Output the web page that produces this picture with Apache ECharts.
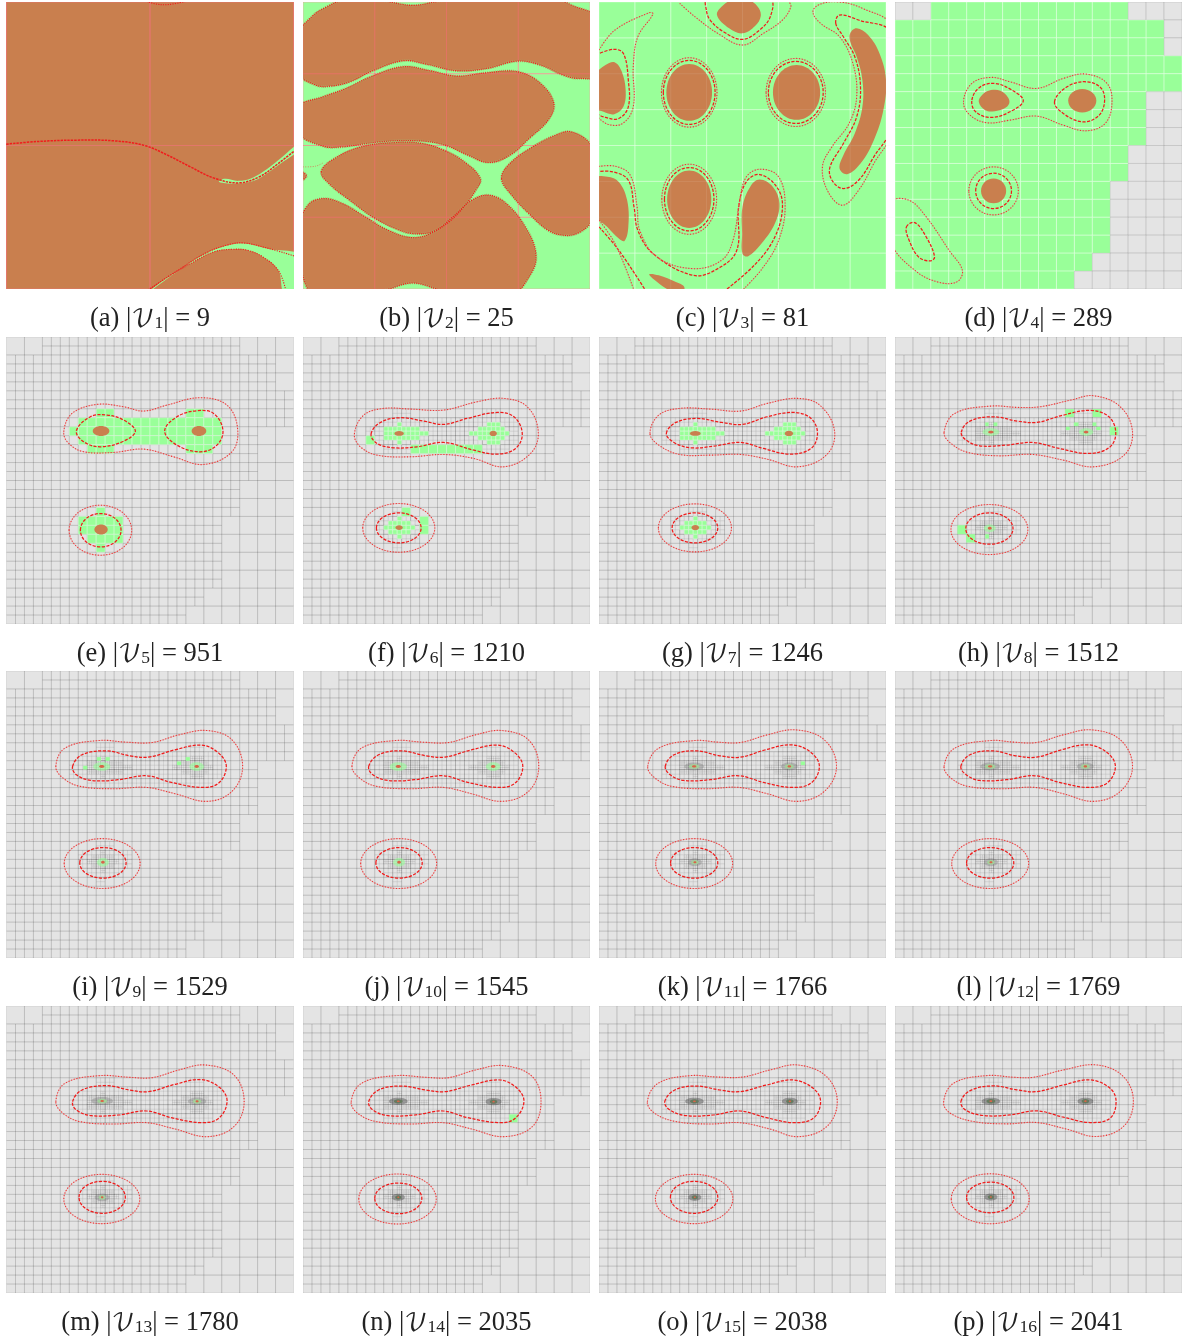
<!DOCTYPE html>
<html><head><meta charset="utf-8">
<style>html,body{margin:0;padding:0;background:#fff}#c{width:1192px;height:1341px}</style>
<script src="https://cdn.jsdelivr.net/npm/echarts@6/dist/echarts.min.js"></script>
</head><body><div id="c"></div>
<script>
const letters=['a','b','c','d','e','f','g','h','i','j','k','l','m','n','o','p'];
const vertexCounts=[9,25,81,289,951,1210,1246,1512,1529,1545,1766,1769,1780,2035,2038,2041];
// reading frames: x at panel left, x at right, y at top, y at bottom of the crop the values were read on
const frames={a:[18,770,6,866],b:[797,1550,6,866],c:[8,762,6,866],d:[788,1542,6,866],e:[18,880,6,866],f:[8,868,6,866],g:[8,762,6,866],h:[788,1542,6,866],i:[16,772,3,866],j:[796,1552,3,866],k:[8,762,3,866],l:[788,1542,3,866],m:[16,772,3,864],n:[796,1552,3,864],o:[8,868,3,864],p:[14,876,18,880]};
// mesh: refined span of each coarse row
const refinedRows=[[2,13],[0,15],[0,15],[0,16],[0,16],[0,14],[0,14],[0,14],[0,13],[0,13],[0,12],[0,12],[0,12],[0,12],[0,11],[0,10]];
// refined blocks, half-cell index
const greenE=[[10,8,12,9],[20,8,22,9],[8,9,24,12],[7,10,8,11],[9,12,12,13],[20,12,23,13],[10,19,11,20],[8,20,13,22],[9,22,13,23],[10,23,11,24]];
const coarseGreenF=[[7,11,8,12],[12,12,20,13],[13,20,14,22],[11,19,12,20]];
// refined blocks, quarter-cell index
const crosses=[[21,19,22,20],[18,20,26,21],[18,21,28,22],[18,22,26,23],[21,23,22,24],
 [41,19,44,20],[39,20,45,21],[37,21,46,22],[39,22,45,23],[41,23,44,24],
 [21,40,22,41],[19,41,24,42],[18,42,25,43],[19,43,24,44],[21,44,22,45]];
const spotsH=[[1235,222,1258,246],[1307,222,1330,246],[1352,275,1375,300],[952,570,975,597],[975,597,998,622],[1025,262,1034,273],[1047,262,1057,273],[1258,262,1270,273],[1307,262,1317,273],[1237,275,1247,285],[1317,275,1328,285],[1025,597,1035,610]];
const spotsI=[[254,262,265,273],[277,262,288,273],[218,288,229,299],[465,275,476,286],[488,262,499,273]];
const spotsK=[[538,275,549,286]];
const spotsN=[[1339,328,1361,352]];
// panel a
const aGreen1=[[790,425],[730,480],[690,515],[660,534],[625,542],[590,536],[575,545],[625,550],[670,540],[700,520],[730,495],[790,445]];
const aGreen2=[[380,885],[470,810],[540,760],[600,735],[640,730],[700,745],[800,772],[800,885],[748,885],[730,810],[690,770],[650,750],[610,747],[560,755],[500,790],[440,830]];
const aLine1=[[0,434],[100,424],[200,420],[300,422],[380,436],[440,465],[500,500],[560,533],[625,548],[680,530],[730,490],[790,436]];
const aLine2=[[390,868],[470,808],[540,758],[600,733],[640,728],[700,743],[775,768]];
const aLine3=[[750,870],[730,810],[690,770],[650,750],[610,747],[560,755],[500,790],[440,830],[395,866]];
const aLine4=[[385,4],[410,12],[440,14],[490,4]];
// panel b
const bBlobs=[
 [[780,110],[820,50],[860,20],[900,2],[1000,2],[1085,16],[1170,2],[1470,2],[1500,15],[1575,60],[1575,222],[1520,235],[1480,225],[1420,195],[1360,183],[1280,205],[1200,212],[1120,192],[1060,182],[980,212],[920,245],[870,258],[830,255],[780,215]],
 [[780,322],[850,290],[910,265],[975,230],[1060,200],[1130,212],[1200,228],[1280,218],[1360,215],[1420,250],[1455,310],[1440,360],[1390,415],[1340,465],[1285,487],[1230,465],[1170,435],[1100,422],[1000,425],[900,440],[850,438],[780,395]],
 [[845,515],[880,475],[950,440],[1040,427],[1110,430],[1170,452],[1220,485],[1262,535],[1250,570],[1215,625],[1180,665],[1135,695],[1085,700],[1040,685],[980,650],[920,600],[870,555]],
 [[1318,535],[1340,490],[1400,440],[1460,405],[1500,395],[1550,430],[1580,500],[1580,600],[1550,670],[1515,700],[1480,705],[1440,690],[1390,640],[1345,585]],
 [[780,700],[810,615],[850,595],[900,610],[960,650],[1020,690],[1085,712],[1140,695],[1190,650],[1240,600],[1285,585],[1330,610],[1380,680],[1408,760],[1395,820],[1340,885],[1170,872],[1085,848],[1000,872],[830,885],[790,800]],
 [[790,515],[806,527],[790,542]]];
const bLine=[[797,500],[830,498],[850,488]];
// panel c
const cBlobs=[
 [[318,45],[335,15],[360,0],[400,0],[425,20],[433,48],[418,78],[385,100],[350,85]],
 [[668,100],[685,85],[715,105],[745,160],[762,240],[755,330],[730,420],[695,490],[660,522],[640,505],[650,465],[680,400],[700,320],[700,240],[685,170],[668,125]],
 [[-5,230],[25,195],[50,187],[68,215],[78,270],[72,320],[48,342],[20,335],[-5,320]],
 [[-5,535],[30,530],[60,545],[82,600],[85,680],[75,722],[60,715],[30,680],[-5,640]],
 [[385,620],[405,560],[430,538],[465,560],[482,610],[470,670],[435,730],[400,768],[385,760],[384,700]],
 [[140,822],[165,825],[210,845],[232,860],[225,880],[190,868],[155,840]]];
const cEll=[[245,277,60,85],[527,277,62,82],[245,597,58,86]];
const cEllDash=[[245,277,68,96],[525,277,72,93],[245,597,65,95]];
const cEllDot=[[245,277,73,104],[525,277,78,102],[245,597,72,105]];
const cDashClosed=[
 [[290,30],[292,0],[458,0],[458,50],[430,90],[385,118],[335,95],[300,60]],
 [[630,70],[640,45],[690,60],[775,100],[775,380],[730,470],[690,540],[650,565],[620,540],[615,500],[650,430],[685,350],[695,260],[680,170],[650,110]]];
const cDashOpen=[
 [[0,165],[45,148],[72,160],[85,240],[85,320],[60,355],[25,352],[0,340]],
 [[0,515],[45,515],[85,540],[100,620],[110,690],[150,760],[255,825],[320,805],[370,750],[375,620],[395,545],[430,523],[475,560],[490,620],[470,710],[420,790],[340,870]],
 [[8,680],[60,750],[130,870]]];
const cDotClosed=[
 [[570,35],[590,12],[640,6],[700,25],[775,80],[775,395],[730,490],[690,570],[648,615],[610,575],[595,500],[620,440],[665,370],[685,290],[675,190],[640,110],[590,70]]];
const cDotOpen=[
 [[8,150],[50,90],[140,38],[150,42],[110,110],[98,200],[98,320],[70,370],[30,372],[0,345]],
 [[220,10],[260,50],[320,100],[385,135],[440,100],[490,60],[512,20],[505,2]],
 [[0,500],[50,498],[90,525],[108,620],[115,690],[160,770],[255,805],[330,780],[360,720],[378,600],[395,530],[432,507],[480,530],[497,620],[480,720],[440,800],[385,870]],
 [[8,660],[50,730],[100,870]]];
// panel d
const dBlobs=[[[1008,305],[1018,283],[1040,270],[1065,272],[1085,292],[1088,310],[1075,325],[1050,333],[1025,330]]];
const dEll=[[1280,302,37,35],[1047,572,33,37]];
const dDash=[[[990,300],[1010,262],[1050,250],[1095,270],[1125,302],[1090,335],[1040,352],[1000,335]],[[1207,305],[1240,260],[1290,245],[1330,265],[1338,310],[1320,350],[1280,365],[1230,340]],[[818,680],[840,667],[870,710],[892,770],[880,782],[850,770],[825,720]]];
const dDot=[[[968,305],[990,250],[1040,232],[1090,245],[1160,265],[1230,235],[1290,222],[1345,250],[1358,310],[1340,370],[1290,392],[1230,375],[1160,348],[1090,360],[1030,368],[985,345]],[[780,605],[825,600],[870,650],[930,750],[965,810],[950,845],[900,845],[840,810],[780,730]]];
const dEllDash=[[1047,572,47,53]];
const dEllDot=[[1047,572,65,72]];
// panels e-p: contours
const outerE=[[190,290],[215,235],[290,208],[370,215],[430,228],[500,210],[600,188],[680,210],[712,280],[695,350],[610,388],[520,365],[430,342],[340,352],[250,350],[205,325]];
const innerE=[[[228,287],[270,245],[320,240],[370,255],[405,288],[370,318],[300,335],[250,320]],[[493,288],[530,245],[590,227],[640,235],[668,285],[650,330],[600,350],[530,330]]];
const ellE=[[301,585,61,50],[300,585,94,75]];
const brownE=[[302,288,25,15],[596,288,22,15],[302,583,20,15]];
const outerF=[[162,297],[190,240],[250,220],[330,222],[430,225],[530,200],[610,190],[680,215],[713,290],[690,355],[610,395],[520,370],[430,358],[330,365],[230,360],[180,335]];
const innerF=[[212,297],[240,262],[300,248],[370,258],[430,268],[500,250],[590,232],[640,245],[665,295],[645,340],[590,357],[520,345],[430,322],[350,335],[280,338],[230,325]];
const ellF=[[295,578,67,45],[295,578,108,73]];
const brownF=[[296,295,14,7],[578,295,11,8],[296,577,11,7]];
const outerG=[[142,295],[165,240],[220,220],[300,222],[380,228],[450,205],[530,190],[590,212],[627,290],[605,360],[530,395],[450,372],[380,358],[300,360],[220,358],[165,330]];
const innerG=[[185,295],[210,262],[265,250],[330,262],[385,268],[450,245],[520,232],[565,250],[582,295],[565,340],[510,357],[440,340],[380,322],[310,333],[250,338],[205,322]];
const ellG=[[260,578,60,45],[260,578,96,72]];
const brownG=[[261,295,14,7],[507,295,11,8],[261,577,10,8]];
const outerH=[[917,292],[945,235],[1040,213],[1110,217],[1170,215],[1250,195],[1310,182],[1380,215],[1412,290],[1390,360],[1310,395],[1230,375],[1150,358],[1060,362],[980,352],[935,325]];
const innerH=[[962,292],[985,258],[1045,245],[1110,258],[1160,262],[1230,240],[1300,226],[1350,245],[1368,295],[1350,338],[1295,355],[1220,340],[1150,322],[1080,330],[1010,332],[975,315]];
const ellH=[[1036,580,62,47],[1036,583,101,75]];
const centersH=[[1040,291],[1290,291],[1037,579]];
const outerI=[[146,290],[170,235],[260,212],[330,217],[400,218],[470,195],[545,182],[610,210],[638,290],[610,365],[545,395],[460,372],[385,353],[300,357],[210,350],[165,325]];
const innerI=[[190,290],[215,255],[280,243],[340,258],[390,262],[460,240],[530,226],[575,250],[595,290],[575,340],[530,353],[450,338],[385,318],[310,330],[240,332],[200,315]];
const ellI=[[270,580,61,46],[268,582,100,75]];
const centersI=[[267,290],[517,290],[270,578]];
const outerJ=[[925,290],[950,235],[1040,212],[1110,217],[1180,218],[1250,195],[1320,182],[1390,210],[1417,290],[1390,365],[1320,395],[1240,372],[1165,353],[1080,357],[990,350],[945,325]];
const innerJ=[[969,290],[995,255],[1055,243],[1120,258],[1170,262],[1240,240],[1310,226],[1355,250],[1375,290],[1355,340],[1310,353],[1230,338],[1165,318],[1090,330],[1020,332],[980,315]];
const ellJ=[[1049,580,61,46],[1048,582,100,75]];
const centersJ=[[1047,290],[1297,290],[1049,578]];
const outerK=[[136,290],[165,235],[260,212],[320,217],[380,218],[450,195],[525,180],[600,210],[632,290],[600,365],[530,395],[450,372],[375,353],[290,357],[200,350],[155,325]];
const innerK=[[182,290],[205,255],[265,243],[325,258],[380,262],[445,240],[515,225],[565,248],[587,290],[565,340],[515,353],[440,338],[375,318],[300,330],[230,332],[195,315]];
const ellK=[[258,580,62,46],[258,582,101,75]];
const centersK=[[258,290],[508,290],[260,578]];
const outerL=[[917,290],[945,235],[1040,212],[1100,217],[1160,218],[1230,195],[1305,180],[1380,210],[1412,290],[1380,365],[1310,395],[1230,372],[1155,353],[1070,357],[980,350],[935,325]];
const innerL=[[961,290],[985,255],[1045,243],[1105,258],[1160,262],[1225,240],[1295,225],[1345,248],[1367,290],[1345,340],[1295,353],[1220,338],[1155,318],[1080,330],[1010,332],[975,315]];
const ellL=[[1038,580,62,46],[1038,582,101,75]];
const centersL=[[1038,290],[1288,290],[1040,578]];
const outerM=[[146,290],[170,235],[260,212],[340,217],[400,218],[470,195],[540,180],[615,210],[642,290],[615,365],[545,395],[460,372],[385,353],[300,357],[210,350],[165,325]];
const innerM=[[190,290],[215,255],[280,242],[340,255],[390,260],[460,238],[530,224],[580,250],[597,290],[575,340],[530,353],[450,338],[385,318],[310,330],[240,332],[200,315]];
const ellM=[[268,577,61,48],[267,582,100,74]];
const centersM=[[268,288],[518,289],[268,577]];
const outerN=[[923,290],[950,235],[1040,212],[1120,217],[1180,218],[1250,195],[1325,182],[1400,215],[1423,290],[1400,365],[1325,395],[1240,372],[1165,353],[1080,357],[990,350],[940,325]];
const innerN=[[969,290],[995,255],[1055,243],[1120,255],[1170,260],[1240,240],[1315,225],[1360,250],[1378,290],[1355,340],[1315,353],[1230,338],[1165,318],[1090,330],[1020,332],[980,315]];
const ellN=[[1047,580,62,46],[1045,582,102,75]];
const centersN=[[1047,289],[1298,290],[1047,577]];
const outerO=[[153,290],[185,235],[280,212],[360,216],[440,216],[520,195],[605,180],[690,215],[722,290],[690,365],[605,395],[520,372],[430,353],[340,357],[240,350],[175,325]];
const innerO=[[205,290],[235,255],[300,243],[370,255],[430,260],[510,240],[590,225],[650,250],[672,290],[650,340],[590,353],[510,338],[430,318],[350,330],[270,332],[220,315]];
const ellO=[[293,577,71,48],[293,582,116,74]];
const centersO=[[294,289],[580,289],[295,577]];
const outerP=[[160,307],[190,250],[290,227],[370,232],[430,232],[520,210],[620,195],[700,230],[730,305],[700,380],[620,410],[530,388],[440,368],[350,372],[250,365],[180,340]];
const innerP=[[212,305],[240,272],[310,258],[380,270],[440,275],[520,255],[600,240],[660,265],[678,305],[660,355],[600,368],[520,352],[440,333],[360,345],[280,347],[225,330]];
const ellP=[[300,593,71,46],[300,597,117,75]];
const centersP=[[302,304],[586,304],[302,592]];
// center marker layers: half-width, half-height in mesh cells, colour name
const coreH=[[.47,.21,'pale'],[.16,.08,'dot']];
const coreI=[[.48,.24,'pale'],[.15,.08,'dot']];
const coreK=[[.55,.22,'gray'],[.3,.13,'soft'],[.12,.06,'dot']];
const coreM=[[.6,.22,'gray'],[.28,.13,'soft'],[.1,.06,'dot']];
const coreN=[[.52,.2,'grayD'],[.25,.12,'dark'],[.08,.05,'dot']];

const GREEN='#99ff99',BROWN='#c97f4e',GRAY='#e4e4e4',SALMON='#e2776a',RED='#f01c1c';
const colors={pale:'rgba(153,255,153,.6)',dot:'#d8654a',gray:'rgba(120,120,120,.38)',soft:'#a3cf9b',grayD:'rgba(90,90,90,.5)',dark:'#667a5f'};
const lefts=[6.5,303,599,895],tops=[2,337,671,1006],PW=287;

function U(k,p){const f=frames[k];return [(p[0]-f[0])/(f[1]-f[0])*16,(p[1]-f[2])/(f[3]-f[2])*16];}
function UE(k,e){const f=frames[k];const c=U(k,e);return [c[0],c[1],e[2]/(f[1]-f[0])*16,e[3]/(f[3]-f[2])*16];}
function cellsOf(r,size){const o=[];for(let y=r[1];y<r[3];y++)for(let x=r[0];x<r[2];x++)o.push([x*size,y*size,(x+1)*size,(y+1)*size]);return o;}
const cellFill=(c,f,s,w)=>({kind:'rect',r:c,fill:f,stroke:s,width:w});
const meshFine='rgba(0,0,0,.085)',meshCoarse='rgba(0,0,0,.09)',meshFiner='rgba(0,0,0,.06)',meshFinest='rgba(0,0,0,.055)';
function baseMesh(){const o=[];
 for(let y=0;y<16;y++)for(let x=0;x<16;x++){
  const s=refinedRows[y];
  if(x>=s[0]&&x<s[1]) for(const c of cellsOf([x*2,y*2,x*2+2,y*2+2],.5)) o.push(cellFill(c,null,meshFine,1));
  else o.push(cellFill([x,y,x+1,y+1],null,meshCoarse,1));
 }return o;}
function addGreen(o,list,size){for(const r of list)for(const c of cellsOf(r,size))o.push(cellFill(c,GREEN,'rgba(255,255,255,.4)',.8));}
function addSpots(o,k,list){for(const r of list){const a=U(k,[r[0],r[1]]),b=U(k,[r[2],r[3]]);o.push(cellFill([a[0],a[1],b[0],b[1]],GREEN,null,0));}}
const DASH=(k,p,open)=>({kind:open?'line':'poly',pts:p.map(q=>U(k,q)),stroke:RED,width:1.25,dash:[3.2,1.4]});
function DOT(k,p,open){const kind=open?'line':'poly',pts=p.map(q=>U(k,q));return [{kind,pts,stroke:'rgba(225,130,130,.5)',width:.9},{kind,pts,stroke:'#ee3434',width:1.1,dash:[1.1,1.7]}];}
const DASHE=(k,e)=>({kind:'ell',e:UE(k,e),stroke:RED,width:1.25,dash:[3.2,1.4]});
function DOTE(k,e){return [{kind:'ell',e:UE(k,e),stroke:'rgba(225,130,130,.5)',width:.9},{kind:'ell',e:UE(k,e),stroke:'#ee3434',width:1.1,dash:[1.1,1.7]}];}
const FILLE=(k,e,f)=>({kind:'ell',e:UE(k,e),fill:f});
function coreOf(k,centers,layers){const o=[];centers.forEach((c,i)=>{const u=U(k,c);const sx=i==2?.7:i==1?.85:1;for(const l of layers)o.push({kind:'ell',e:[u[0],u[1],l[0]*sx,l[1]],fill:colors[l[2]]});});return o;}
function contour(k,outer,inner,ell){let o=[];o=o.concat(DOT(k,outer));(Array.isArray(inner[0][0])?inner:[inner]).forEach(p=>o.push(DASH(k,p)));o.push(DASHE(k,ell[0]));o=o.concat(DOTE(k,ell[1]));return o;}

const panels={};
// a
panels.a=[{kind:'rect',r:[0,0,16,16],fill:BROWN},
 {kind:'rect',r:[0,0,8,8],stroke:SALMON,width:1},{kind:'rect',r:[8,0,16,8],stroke:SALMON,width:1},{kind:'rect',r:[0,8,8,16],stroke:SALMON,width:1},{kind:'rect',r:[8,8,16,16],stroke:SALMON,width:1},
 {kind:'poly',pts:aGreen1.map(p=>U('a',p)),fill:GREEN},{kind:'poly',pts:aGreen2.map(p=>U('a',p)),fill:GREEN},
 {kind:'line',pts:aLine1.map(p=>U('a',p)),stroke:RED,width:1.5,dash:[2.4,1]},
 {kind:'line',pts:aLine2.map(p=>U('a',p)),stroke:RED,width:1.1,dash:[1.2,1.2]},
 {kind:'line',pts:aLine3.map(p=>U('a',p)),stroke:RED,width:1.1,dash:[1.2,1.2]},
 {kind:'line',pts:aLine4.map(p=>U('a',p)),stroke:RED,width:1.1,dash:[1.2,1.2]}];
// b
panels.b=[{kind:'rect',r:[0,0,16,16],fill:GREEN}];
for(const r of cellsOf([0,0,4,4],4))panels.b.push(cellFill(r,null,'rgba(255,255,255,.35)',1));
for(const bl of bBlobs)panels.b.push({kind:'poly',pts:bl.map(p=>U('b',p)),fill:BROWN,stroke:'rgba(170,170,100,.75)',width:2.6,dash:[1,1]});
for(const r of cellsOf([0,0,4,4],4))panels.b.push(cellFill(r,null,'rgba(240,110,110,.4)',1));
for(const bl of bBlobs)panels.b.push({kind:'poly',pts:bl.map(p=>U('b',p)),stroke:RED,width:1.2,dash:[1.1,1.1]});
panels.b.push({kind:'line',pts:bLine.map(p=>U('b',p)),stroke:'#d08a60',width:1,dash:[1,1.4]});
// c
panels.c=[{kind:'rect',r:[0,0,16,16],fill:GREEN}];
for(const r of cellsOf([0,0,8,8],2))panels.c.push(cellFill(r,null,'rgba(255,255,255,.26)',1));
for(const bl of cBlobs)panels.c.push({kind:'poly',pts:bl.map(p=>U('c',p)),fill:BROWN});
for(const e of cEll)panels.c.push(FILLE('c',e,BROWN));
for(const r of cellsOf([0,0,8,8],2))panels.c.push(cellFill(r,null,'rgba(255,255,255,.05)',1));
for(const p of cDashClosed)panels.c.push(DASH('c',p));
for(const p of cDashOpen)panels.c.push(DASH('c',p,true));
for(const p of cDotClosed)panels.c.push(...DOT('c',p));
for(const p of cDotOpen)panels.c.push(...DOT('c',p,true));
for(const e of cEllDash)panels.c.push(DASHE('c',e));
for(const e of cEllDot)panels.c.push(...DOTE('c',e));
// d
panels.d=[];
for(let y=0;y<16;y++)for(let x=0;x<16;x++){const s=refinedRows[y];
 panels.d.push(x>=s[0]&&x<s[1]?cellFill([x,y,x+1,y+1],GREEN,'rgba(255,255,255,.32)',1):cellFill([x,y,x+1,y+1],GRAY,'rgba(0,0,0,.1)',1));}
for(const p of dBlobs)panels.d.push({kind:'poly',pts:p.map(q=>U('d',q)),fill:BROWN});
for(const e of dEll)panels.d.push(FILLE('d',e,BROWN));
for(const p of dDash)panels.d.push(DASH('d',p));
for(const p of dDot)panels.d.push(...DOT('d',p));
panels.d.push(DASHE('d',dEllDash[0]),...DOTE('d',dEllDot[0]));
// e-p
function meshPanel(blocks){const o=[{kind:'rect',r:[0,0,16,16],fill:GRAY}].concat(baseMesh());
 const sub=(list,from,mul,size,col)=>{for(const r of list)for(const c of cellsOf(r,from))for(const q of cellsOf([c[0]*mul,c[1]*mul,c[2]*mul,c[3]*mul],size))o.push(cellFill(q,null,col,.8));};
 if(blocks>=1)sub(greenE,.5,4,.25,meshFiner);
 if(blocks>=2)sub(coarseGreenF,.5,4,.25,meshFiner);
 if(blocks>=3)sub(crosses,.25,8,.125,meshFinest);
 return o;}
panels.e=meshPanel(0);addGreen(panels.e,greenE,.5);brownE.forEach(e=>panels.e.push(FILLE('e',e,BROWN)));
panels.e=panels.e.concat(contour('e',outerE,innerE,ellE));
panels.f=meshPanel(1);addGreen(panels.f,crosses,.25);addGreen(panels.f,coarseGreenF,.5);brownF.forEach(e=>panels.f.push(FILLE('f',e,BROWN)));
panels.f=panels.f.concat(contour('f',outerF,innerF,ellF));
panels.g=meshPanel(2);addGreen(panels.g,crosses,.25);brownG.forEach(e=>panels.g.push(FILLE('g',e,BROWN)));
panels.g=panels.g.concat(contour('g',outerG,innerG,ellG));
panels.h=meshPanel(3);addSpots(panels.h,'h',spotsH);panels.h=panels.h.concat(coreOf('h',centersH,coreH),contour('h',outerH,innerH,ellH));
panels.i=meshPanel(3);addSpots(panels.i,'i',spotsI);panels.i=panels.i.concat(coreOf('i',centersI,coreI),contour('i',outerI,innerI,ellI));
panels.j=meshPanel(3).concat(coreOf('j',centersJ,coreI),contour('j',outerJ,innerJ,ellJ));
panels.k=meshPanel(3);addSpots(panels.k,'k',spotsK);panels.k=panels.k.concat(coreOf('k',centersK,coreK),contour('k',outerK,innerK,ellK));
panels.l=meshPanel(3).concat(coreOf('l',centersL,coreK),contour('l',outerL,innerL,ellL));
panels.m=meshPanel(3).concat(coreOf('m',centersM,coreM),contour('m',outerM,innerM,ellM));
panels.n=meshPanel(3);addSpots(panels.n,'n',spotsN);panels.n=panels.n.concat(coreOf('n',centersN,coreN),contour('n',outerN,innerN,ellN));
panels.o=meshPanel(3).concat(coreOf('o',centersO,coreN),contour('o',outerO,innerO,ellO));
panels.p=meshPanel(3).concat(coreOf('p',centersP,coreN),contour('p',outerP,innerP,ellP));

function styleOf(s){return {fill:s.fill||'none',stroke:s.stroke||'none',lineWidth:s.width||0,lineDash:s.dash||null};}
function render(shapes){return function(params,api){
 const s=shapes[params.dataIndex];
 if(s.kind==='rect'){const a=api.coord([s.r[0],s.r[1]]),b=api.coord([s.r[2],s.r[3]]);
  return {type:'rect',shape:{x:a[0],y:Math.min(a[1],b[1]),width:b[0]-a[0],height:Math.abs(b[1]-a[1])},style:styleOf(s),silent:true};}
 if(s.kind==='ell'){const c=api.coord([s.e[0],s.e[1]]),z=api.size([s.e[2],s.e[3]]);
  return {type:'ellipse',shape:{cx:c[0],cy:c[1],rx:z[0],ry:z[1]},style:styleOf(s),silent:true};}
 const pts=s.pts.map(p=>api.coord(p));
 return {type:s.kind==='poly'?'polygon':'polyline',shape:{points:pts,smooth:.38},style:styleOf(s),silent:true};
};}
const grid=[],xAxis=[],yAxis=[],series=[],title=[];
const capRich={t:{fontFamily:'"Liberation Serif"',fontSize:26.5,fontWeight:'normal',color:'#222',verticalAlign:'middle'},
 v:{fontFamily:'"DejaVu Math TeX Gyre","Liberation Serif"',fontSize:24,fontWeight:'normal',color:'#222',verticalAlign:'middle'},
 s:{fontFamily:'"Liberation Serif"',fontSize:17.5,fontWeight:'normal',color:'#222',verticalAlign:'bottom',lineHeight:27}};
letters.forEach((k,i)=>{
 const L=lefts[i%4],T=tops[Math.floor(i/4)];
 grid.push({left:L,top:T,width:PW,height:PW,containLabel:false});
 xAxis.push({type:'value',gridIndex:i,min:0,max:16,show:false});
 yAxis.push({type:'value',gridIndex:i,min:0,max:16,inverse:true,show:false});
 const shapes=panels[k];
 series.push({type:'custom',xAxisIndex:i,yAxisIndex:i,coordinateSystem:'cartesian2d',clip:true,silent:true,animation:false,progressive:0,
  renderItem:render(shapes),encode:{x:0,y:1},data:shapes.map(()=>[8,8])});
 title.push({left:L+PW/2-5,top:T+PW+25,textAlign:'center',textVerticalAlign:'middle',
  text:`{t|(${k}) |}{v|𝒱}{s|${i+1}}{t|| = ${vertexCounts[i]}}`,textStyle:{fontWeight:'normal',rich:capRich}});
});
const chart=echarts.init(document.getElementById('c'),null,{renderer:'canvas'});
chart.setOption({animation:false,backgroundColor:'#fff',tooltip:{show:false},grid,xAxis,yAxis,series,title});
</script></body></html>
